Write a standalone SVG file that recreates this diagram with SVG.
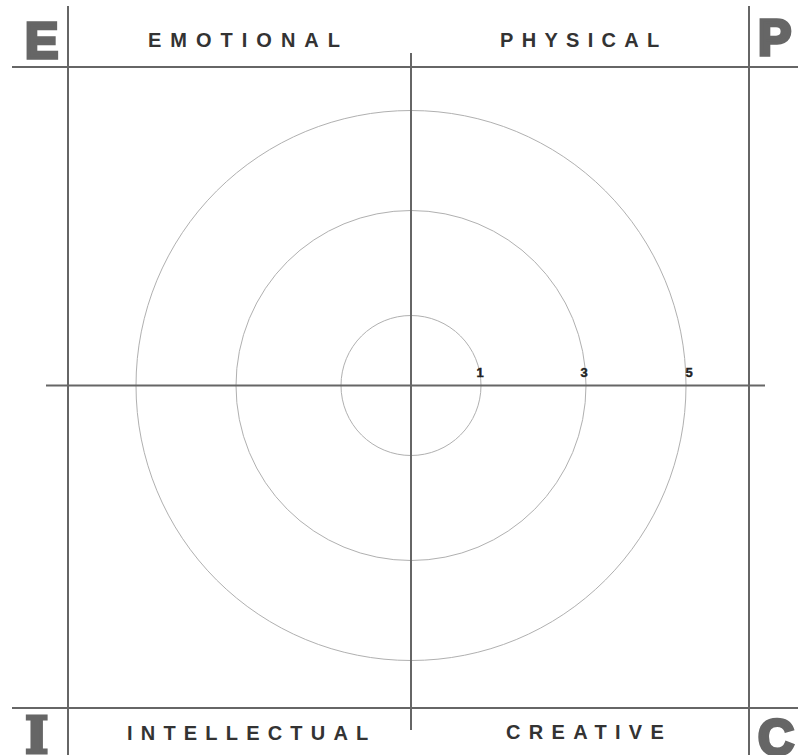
<svg xmlns="http://www.w3.org/2000/svg" width="798" height="755" viewBox="0 0 798 755">
<style>
.ax{stroke:#666;stroke-width:2;fill:none}
.ring{stroke:#b0b0b0;stroke-width:1;fill:none}
.big{font-family:"Liberation Sans",Arial,sans-serif;font-weight:bold;font-size:50px;fill:#666;stroke:#666;stroke-width:3.5;stroke-linejoin:miter}
.title{font-family:"Liberation Sans",Arial,sans-serif;font-weight:bold;font-size:20px;fill:#333;letter-spacing:9px}
.num{font-family:"Liberation Sans",Arial,sans-serif;font-weight:bold;font-size:13px;fill:#222;text-anchor:middle;stroke:#222;stroke-width:0.4}
</style>
<rect width="798" height="755" fill="#fff"/>
<g id="rings">
<circle class="ring" cx="411" cy="385.5" r="70"/>
<circle class="ring" cx="411" cy="385.5" r="175"/>
<circle class="ring" cx="411" cy="385.5" r="275"/>
</g>
<g id="connectors">
<line class="ax" x1="68" y1="6" x2="68" y2="755"/>
<line class="ax" x1="749" y1="6" x2="749" y2="755"/>
<line class="ax" x1="12" y1="67" x2="798" y2="67"/>
<line class="ax" x1="12" y1="708" x2="798" y2="708"/>
<line class="ax" x1="411" y1="53" x2="411" y2="730"/>
<line class="ax" x1="46" y1="385.5" x2="765" y2="385.5"/>
</g>
<g id="scale">
<text class="num" x="480" y="377">1</text>
<text class="num" x="584" y="377">3</text>
<text class="num" x="689" y="377">5</text>
</g>
<g id="emotional">
<text class="big" x="25" y="58">E</text>
<text class="title" x="148" y="47">EMOTIONAL</text>
</g>
<g id="physical">
<text class="big" x="758" y="55">P</text>
<text class="title" x="500" y="47" style="letter-spacing:8.3px">PHYSICAL</text>
</g>
<g id="intellectual">
<text class="big" x="25" y="753" style="font-family:'DejaVu Serif',serif;stroke-width:3">I</text>
<text class="title" x="127" y="740" style="letter-spacing:8.2px">INTELLECTUAL</text>
</g>
<g id="creative">
<text class="big" x="758" y="755">C</text>
<text class="title" x="506" y="739" style="letter-spacing:8.3px">CREATIVE</text>
</g>
</svg>
